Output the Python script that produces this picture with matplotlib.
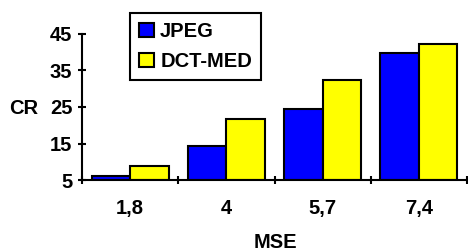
import matplotlib
matplotlib.use("Agg")
import matplotlib.pyplot as plt
import numpy as np

categories = ["1,8", "4", "5,7", "7,4"]
jpeg = [6.0, 14.4, 24.4, 39.7]
dct_med = [8.7, 21.8, 32.4, 42.3]
yticks = [5, 15, 25, 35, 45]

plt.rcParams['font.family'] = ['Liberation Sans', 'DejaVu Sans']
plt.rcParams['font.weight'] = 'bold'

fig = plt.figure(figsize=(4.68, 2.5), dpi=100)
ax = fig.add_axes([82/468, 70/250, 385/468, 146/250])

x = np.arange(len(categories))
w = 0.4
ax.bar(x - w/2, np.array(jpeg) - 5, w, bottom=5, color='#0000FF', edgecolor='black', linewidth=1.5, label='JPEG', zorder=2)
ax.bar(x + w/2, np.array(dct_med) - 5, w, bottom=5, color='#FFFF00', edgecolor='black', linewidth=1.5, label='DCT-MED', zorder=2)

ax.set_xlim(-0.5, len(categories) - 0.5)
ax.set_ylim(5, 45)
ax.set_yticks(yticks)
ax.set_xticks(x)
ax.set_xticklabels(categories)
ax.set_xticks(np.arange(-0.5, len(categories)), minor=True)
ax.tick_params(axis='x', which='major', length=0, pad=14, labelsize=14.5)
ax.tick_params(axis='x', which='minor', direction='inout', length=6, width=1.5)
ax.tick_params(axis='y', direction='inout', length=6, width=1.5, labelsize=14.5, pad=4)
for s in ['top', 'right']:
    ax.spines[s].set_visible(False)
for s in ['left', 'bottom']:
    ax.spines[s].set_linewidth(1.5)
    ax.spines[s].set_zorder(3)

fig.text(24/468, 1 - 109/250, "CR", ha='center', va='center', fontsize=14.5, fontweight='bold')
fig.text(275/468, 1 - 243/250, "MSE", ha='center', va='center', fontsize=14.5, fontweight='bold')

leg = fig.legend(loc='upper left', bbox_to_anchor=(130/468, 1 - 13/250), fontsize=14.5,
                 frameon=True, fancybox=False, shadow=False, borderaxespad=0,
                 handlelength=0.75, handleheight=0.75, handletextpad=0.3,
                 borderpad=0.45, labelspacing=0.55)
leg.get_frame().set_edgecolor('black')
leg.get_frame().set_linewidth(1.5)
leg.get_frame().set_alpha(1)

fig.savefig("out.png", dpi=100)
